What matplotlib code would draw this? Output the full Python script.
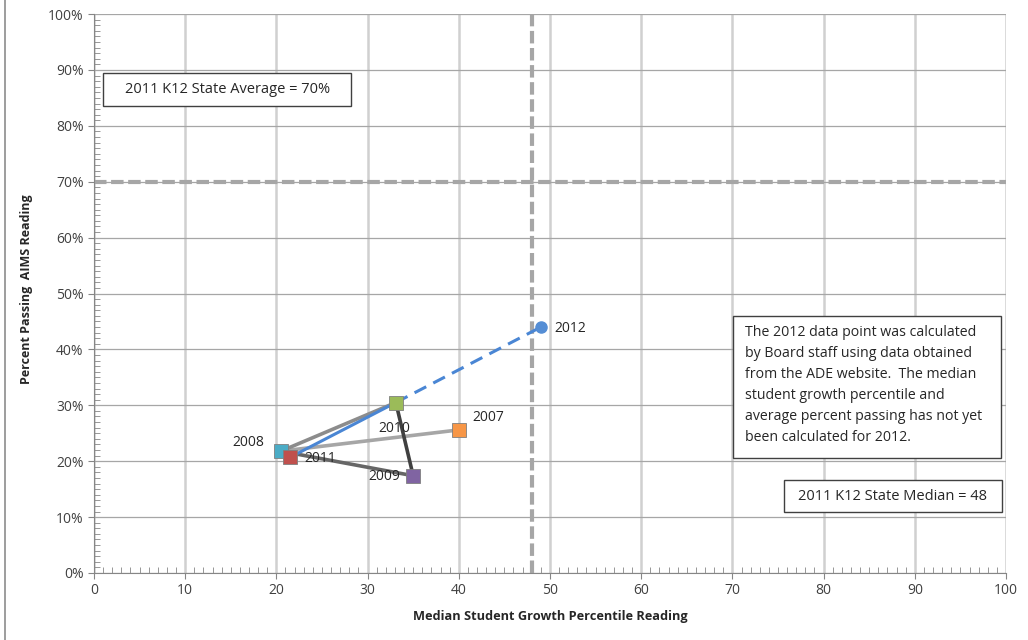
import matplotlib.pyplot as plt
from matplotlib.lines import Line2D
from matplotlib.patches import Rectangle
from matplotlib.ticker import MultipleLocator, PercentFormatter

plt.rcParams['font.family'] = ['Open Sans', 'DejaVu Sans']

# ── Data ─────────────────────────────────────────────────────
years = ['2007', '2008', '2009', '2010', '2011']
growth = [40.0, 20.5, 35.0, 33.1, 21.5]
passing = [25.6, 21.8, 17.4, 30.5, 20.7]
colors = ['#f79646', '#4bacc6', '#8064a2', '#9bbb59', '#c0504d']

proj_year = '2012'
proj_growth = 49.0
proj_passing = 44.0

state_avg = 70
state_median = 48

# connecting segments (from year, to year, colour)
segments = [('2007', '2008', '#a6a6a6'),
            ('2008', '2009', '#666666'),
            ('2009', '2010', '#404040'),
            ('2010', '2008', '#8c8c8c')]

note = ("The 2012 data point was calculated\n"
        "by Board staff using data obtained\n"
        "from the ADE website.  The median\n"
        "student growth percentile and\n"
        "average percent passing has not yet\n"
        "been calculated for 2012.")

# ── Figure ───────────────────────────────────────────────────
fig = plt.figure(figsize=(10.28, 6.4), dpi=100)
ax = fig.add_axes([0.0914, 0.1047, 0.8872, 0.8733])
fig.add_artist(Line2D([0.005, 0.005], [0, 1], color='#8c8c8c', lw=1.2,
                      transform=fig.transFigure))

ax.set_xlim(0, 100)
ax.set_ylim(0, 100)
ax.xaxis.set_major_locator(MultipleLocator(10))
ax.yaxis.set_major_locator(MultipleLocator(10))
ax.xaxis.set_minor_locator(MultipleLocator(1))
ax.yaxis.set_minor_locator(MultipleLocator(1))
ax.yaxis.set_major_formatter(PercentFormatter(decimals=0))

ax.grid(axis='x', which='major', color='#d0d0d0', lw=1.8, zorder=0)
ax.grid(axis='y', which='major', color='#a6a6a6', lw=0.9, zorder=0)
ax.set_axisbelow(True)

for s in ['top', 'right']:
    ax.spines[s].set_visible(False)
for s in ['left', 'bottom']:
    ax.spines[s].set_color('#868686')
ax.tick_params(which='major', direction='out', length=4, color='#868686',
               labelsize=10, labelcolor='#404040')
ax.tick_params(which='minor', direction='in', length=4, color='#868686')

# reference lines
ax.axhline(state_avg, color='#a6a6a6', lw=3, ls=(0, (3, 1.1)), zorder=1)
ax.axvline(state_median, color='#a6a6a6', lw=3, ls=(0, (3, 1.1)), zorder=1)

# connecting lines
idx = {y: i for i, y in enumerate(years)}
for a, b, c in segments:
    ax.plot([growth[idx[a]], growth[idx[b]]], [passing[idx[a]], passing[idx[b]]],
            color=c, lw=2.6, zorder=2, solid_capstyle='butt')

# projection line 2011 -> 2010 solid, 2010 -> 2012 dashed
i11, i10 = idx['2011'], idx['2010']
ax.plot([growth[i11], growth[i10]], [passing[i11], passing[i10]],
        color='#4a86d4', lw=2.2, zorder=3)
ax.plot([growth[i10], proj_growth], [passing[i10], proj_passing],
        color='#4a86d4', lw=2.2, ls=(0, (4.3, 2.6)), zorder=3)

# markers
for x, y, c in zip(growth, passing, colors):
    ax.plot(x, y, marker='s', ms=9.5, color=c, mec='#7f7f7f', mew=0.6, zorder=4)
ax.plot(proj_growth, proj_passing, marker='o', ms=8, color='#558ed5',
        mec='#558ed5', zorder=4)

# year labels
label_pos = {'2007': (1.45, 2.3, 'left'), '2008': (-1.86, 1.6, 'right'),
             '2009': (-1.45, -0.2, 'right'), '2010': (1.55, -4.6, 'right'),
             '2011': (1.6, -0.3, 'left')}
for y, x, p in zip(years, growth, passing):
    dx, dy, ha = label_pos[y]
    ax.text(x + dx, p + dy, y, ha=ha, va='center', fontsize=10, color='#262626',
            zorder=5)
ax.text(proj_growth + 1.5, proj_passing - 0.2, proj_year, ha='left', va='center',
        fontsize=10, color='#262626')

# text boxes
def box(x0, x1, y0, y1):
    ax.add_patch(Rectangle((x0, y0), x1 - x0, y1 - y0, fc='white',
                           ec='#404040', lw=1, zorder=5))

box(1.0, 28.2, 83.5, 89.4)
ax.text(14.6, 86.5, '2011 K12 State Average = 70%', ha='center', va='center',
        fontsize=10.5, color='#262626', zorder=6)
box(75.7, 99.6, 10.9, 16.6)
ax.text(87.6, 13.7, '2011 K12 State Median = 48', ha='center', va='center',
        fontsize=10.5, color='#262626', zorder=6)
box(70.1, 99.45, 20.6, 46.0)
ax.text(71.4, 44.4, note, ha='left', va='top', fontsize=10.2, color='#262626',
        linespacing=1.55, zorder=6)

ax.set_xlabel('Median Student Growth Percentile Reading', fontsize=9.2,
              fontweight='bold', color='#262626', labelpad=8)
ax.set_ylabel('Percent Passing  AIMS Reading', fontsize=9,
              fontweight='bold', color='#262626')
ax.yaxis.set_label_coords(-0.067, 0.508)

fig.savefig('out.png', dpi=100)
